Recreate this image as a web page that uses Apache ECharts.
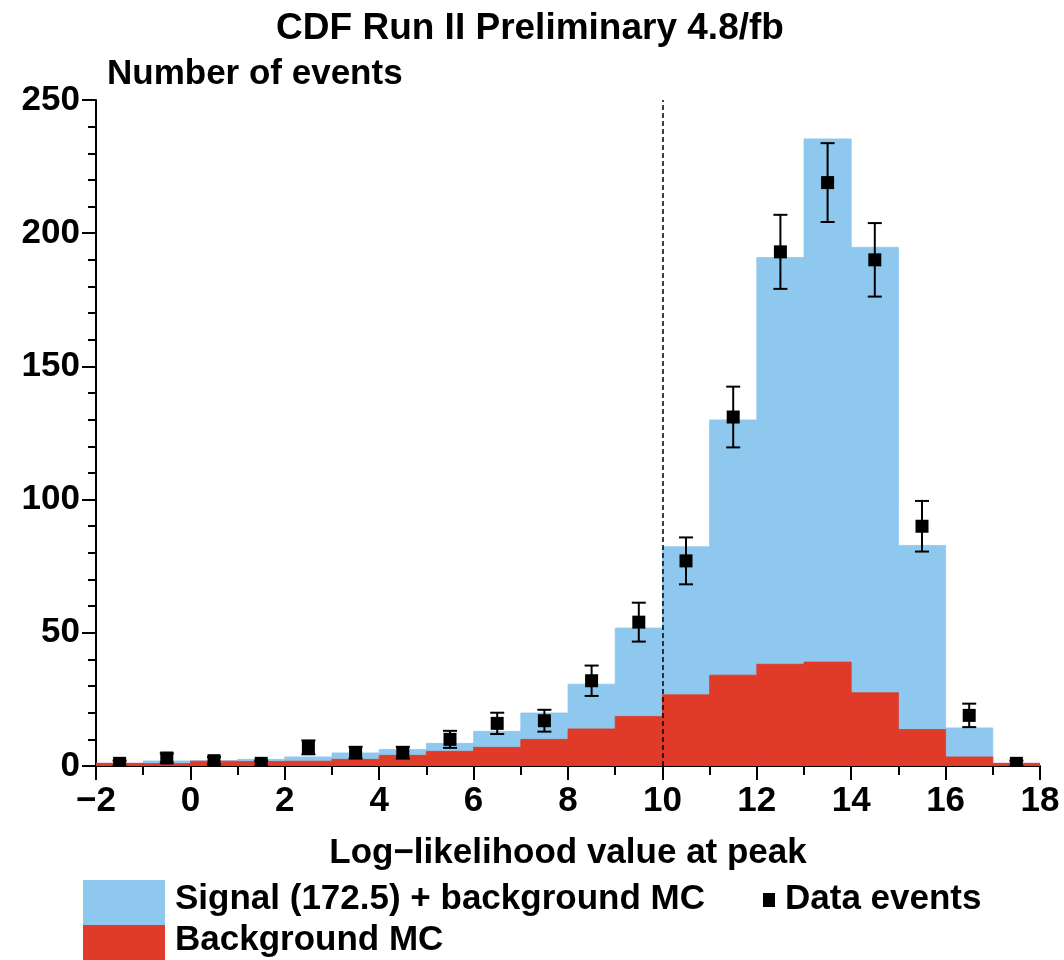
<!DOCTYPE html>
<html>
<head>
<meta charset="utf-8">
<script src="https://cdn.jsdelivr.net/npm/echarts@6/dist/echarts.min.js"></script>
<style>
  html, body { margin: 0; padding: 0; background: #ffffff; }
  #chart { width: 1064px; height: 960px; }
</style>
</head>
<body>
<div id="chart"></div>
<script>
// Bin centres of the log-likelihood histogram (unit-width bins, -2 .. 18)
const binCenters = [-1.5, -0.5, 0.5, 1.5, 2.5, 3.5, 4.5, 5.5, 6.5, 7.5,
                    8.5, 9.5, 10.5, 11.5, 12.5, 13.5, 14.5, 15.5, 16.5, 17.5];
const binWidth = 1;

// Signal (172.5) + background MC, stacked total per bin
const signalPlusBackground = [1.0, 1.9, 2.0, 2.5, 3.4, 4.9, 6.2, 8.5, 13.0, 19.9,
                              30.7, 51.8, 82.3, 129.9, 190.9, 235.4, 194.7, 82.8, 14.3, 1.0];

// Background MC per bin
const backgroundMC = [1.0, 0.9, 1.8, 1.7, 1.8, 2.5, 4.0, 5.5, 7.0, 10.0,
                      13.9, 18.6, 26.7, 34.1, 38.2, 39.0, 27.5, 13.7, 3.4, 1.0];

// Observed data events and their uncertainties
const dataEvents = [1, 3, 2, 1, 7, 5, 5, 10, 16, 17, 32, 54, 77, 131, 193, 219, 190, 90, 19, 1];
const dataErrors = [1.0, 1.7, 1.4, 1.0, 2.6, 2.2, 2.2, 3.2, 4.0, 4.1,
                    5.7, 7.3, 8.8, 11.4, 13.9, 14.8, 13.8, 9.5, 4.4, 1.0];

// Cut value marked by the dashed line
const cutValue = 10;

const FONT = '"Liberation Sans", Arial, Helvetica, sans-serif';
const BLUE = '#8ec8ee';
const RED = '#e03a28';
const FS = 35;

function histData(values) {
  return binCenters.map((c, i) => [c - binWidth / 2, c + binWidth / 2, values[i]]);
}

function binRenderer(color) {
  return function (params, api) {
    const lo = api.value(0), hi = api.value(1), v = api.value(2);
    const p0 = api.coord([lo, v]);
    const p1 = api.coord([hi, 0]);
    return {
      type: 'rect',
      shape: { x: p0[0], y: p0[1], width: p1[0] - p0[0], height: p1[1] - p0[1] },
      style: { fill: color, stroke: color, lineWidth: 0.8 }
    };
  };
}

function pointRenderer(params, api) {
  const x = api.value(0), v = api.value(1), e = api.value(2);
  const c = api.coord([x, v]);
  const top = api.coord([x, v + e]);
  const bot = api.coord([x, Math.max(v - e, 0)]);
  const cap = 7, half = 6.5;
  const ls = { stroke: '#000', lineWidth: 2 };
  return {
    type: 'group',
    children: [
      { type: 'line', shape: { x1: c[0], y1: top[1], x2: c[0], y2: bot[1] }, style: ls },
      { type: 'line', shape: { x1: c[0] - cap, y1: top[1], x2: c[0] + cap, y2: top[1] }, style: ls },
      { type: 'line', shape: { x1: c[0] - cap, y1: bot[1], x2: c[0] + cap, y2: bot[1] }, style: ls },
      { type: 'rect', shape: { x: c[0] - half, y: c[1] - half, width: 2 * half, height: 2 * half },
        style: { fill: '#000' } }
    ]
  };
}

const chart = echarts.init(document.getElementById('chart'), null, { renderer: 'canvas' });

const txt = (extra) => Object.assign({ fontFamily: FONT, fontWeight: 'bold', fontSize: FS, fill: '#000' }, extra);

chart.setOption({
  animation: false,
  backgroundColor: '#ffffff',
  grid: { left: 96, right: 24, top: 100, bottom: 194 },
  xAxis: {
    type: 'value',
    min: -2, max: 18, interval: 2,
    name: 'Log\u2212likelihood value at peak',
    nameLocation: 'middle',
    nameGap: 70,
    nameTextStyle: { fontFamily: FONT, fontWeight: 'bold', fontSize: FS, color: '#000' },
    axisLine: { show: true, onZero: false, lineStyle: { color: '#000', width: 2 } },
    axisTick: { show: true, length: 14, lineStyle: { color: '#000', width: 2 } },
    minorTick: { show: true, splitNumber: 2, length: 9, lineStyle: { color: '#000', width: 2 } },
    splitLine: { show: false },
    axisLabel: {
      margin: 18,
      fontFamily: FONT, fontWeight: 'bold', fontSize: FS, color: '#000',
      formatter: v => (v < 0 ? '\u2212' + Math.abs(v) : String(v))
    }
  },
  yAxis: {
    type: 'value',
    min: 0, max: 250, interval: 50,
    axisLine: { show: true, onZero: false, lineStyle: { color: '#000', width: 2 } },
    axisTick: { show: true, length: 14, lineStyle: { color: '#000', width: 2 } },
    minorTick: { show: true, splitNumber: 5, length: 8, lineStyle: { color: '#000', width: 2 } },
    splitLine: { show: false },
    axisLabel: { margin: 16, fontFamily: FONT, fontWeight: 'bold', fontSize: FS, color: '#000' }
  },
  series: [
    {
      name: 'Signal (172.5) + background MC',
      type: 'custom',
      renderItem: binRenderer(BLUE),
      data: histData(signalPlusBackground),
      encode: { x: [0, 1], y: 2 },
      clip: true,
      z: 1
    },
    {
      name: 'Background MC',
      type: 'custom',
      renderItem: binRenderer(RED),
      data: histData(backgroundMC),
      encode: { x: [0, 1], y: 2 },
      clip: true,
      z: 2
    },
    {
      name: 'Data events',
      type: 'custom',
      renderItem: pointRenderer,
      data: binCenters.map((c, i) => [c, dataEvents[i], dataErrors[i]]),
      encode: { x: 0, y: 1 },
      clip: true,
      z: 4,
      markLine: {
        silent: true,
        symbol: ['none', 'none'],
        label: { show: false },
        lineStyle: { color: '#000', width: 1.5, type: [5, 3] },
        data: [{ xAxis: cutValue }]
      }
    }
  ],
  graphic: [
    { type: 'text', x: 530, y: 10, style: txt({ text: 'CDF Run II Preliminary 4.8/fb', fontSize: 37, align: 'center' }) },
    { type: 'text', left: 107, top: 57, style: txt({ text: 'Number of events' }) },
    { type: 'rect', left: 83, top: 880, shape: { width: 82, height: 45 }, style: { fill: BLUE } },
    { type: 'rect', left: 83, top: 925, shape: { width: 82, height: 45 }, style: { fill: RED } },
    { type: 'text', left: 175, top: 882, style: txt({ text: 'Signal (172.5) + background MC' }) },
    { type: 'rect', left: 763, top: 893, shape: { width: 12, height: 14 }, style: { fill: '#000' } },
    { type: 'text', left: 785, top: 882, style: txt({ text: 'Data events' }) },
    { type: 'text', left: 175, top: 923, style: txt({ text: 'Background MC' }) }
  ]
});
</script>
</body>
</html>
